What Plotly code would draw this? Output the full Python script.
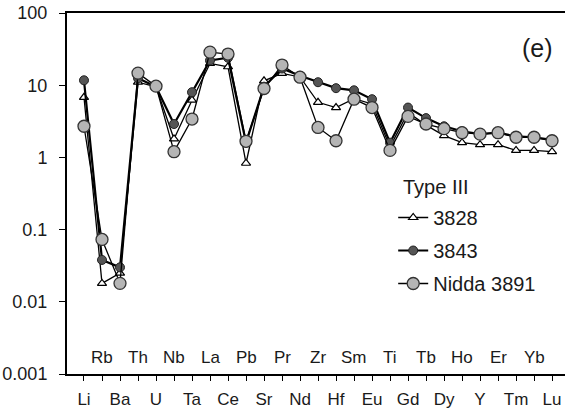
import plotly.graph_objects as go

elements = ["Li", "Rb", "Ba", "Th", "U", "Nb", "Ta", "La", "Ce", "Pb", "Sr", "Pr", "Nd",
            "Zr", "Hf", "Sm", "Eu", "Ti", "Gd", "Tb", "Dy", "Ho", "Y", "Er", "Tm", "Yb", "Lu"]

s3828 = [6.8, 0.018, 0.025, 11.0, 9.5, 1.8, 6.2, 20.0, 18.0, 0.83, 11.5, 14.6, 13.0,
         5.8, 4.9, 6.5, 5.5, 1.4, 4.2, 2.8, 2.0, 1.6, 1.5, 1.5, 1.25, 1.25, 1.2]
s3843 = [11.7, 0.038, 0.030, 12.5, 9.5, 2.9, 8.0, 22.0, 24.0, 1.6, 9.5, 17.0, 13.5,
         11.0, 9.1, 8.5, 6.4, 1.6, 4.9, 3.5, 2.7, 2.3, 2.1, 2.2, 1.95, 1.9, 1.75]
nidda = [2.7, 0.073, 0.018, 14.7, 9.7, 1.2, 3.4, 28.7, 27.0, 1.67, 9.0, 19.0, 12.9,
         2.6, 1.7, 6.4, 4.9, 1.25, 3.7, 2.9, 2.5, 2.2, 2.1, 2.2, 1.9, 1.9, 1.7]

ytick_vals = [0.001, 0.01, 0.1, 1, 10, 100]
ytick_text = ["0.001", "0.01", "0.1", "1", "10", "100"]

FONT = "Liberation Sans, Arial, sans-serif"
TXT = "#1a1a1a"
idx = list(range(len(elements)))

fig = go.Figure()
fig.add_trace(go.Scatter(
    x=idx, y=s3828, name="3828", mode="lines+markers", legendgroup="a",
    line=dict(color="black", width=1.3),
    marker=dict(symbol="triangle-up", size=8, color="white", line=dict(color="black", width=1.2))))
fig.add_trace(go.Scatter(
    x=idx, y=s3843, name="3843", mode="lines+markers", legendgroup="b",
    line=dict(color="black", width=2.2),
    marker=dict(symbol="circle", size=9, color="#555555", line=dict(color="#222222", width=1))))
fig.add_trace(go.Scatter(
    x=idx, y=nidda, name="Nidda 3891", mode="lines+markers", legendgroup="c",
    line=dict(color="black", width=1.3),
    marker=dict(symbol="circle", size=12, color="#b5b5b5", line=dict(color="#333333", width=1.3))))

# labels for odd-index elements sit above the axis, inside the plot
annotations = []
for i, el in enumerate(elements):
    if i % 2 == 1:
        annotations.append(dict(x=i, y=0.047, xref="x", yref="paper", text=el,
                                showarrow=False, xanchor="center", yanchor="middle",
                                font=dict(size=17, color=TXT, family=FONT)))
annotations.append(dict(x=(555 - 67) / 498, y=(374 - 48) / 361, xref="paper", yref="paper",
                        text="(e)", showarrow=False, xanchor="right", yanchor="middle",
                        font=dict(size=25, color=TXT, family=FONT)))
annotations.append(dict(x=(401 - 67) / 498, y=(374 - 187) / 361, xref="paper", yref="paper",
                        text="Type III", showarrow=False, xanchor="left", yanchor="middle",
                        font=dict(size=20, color=TXT, family=FONT)))

fig.update_layout(
    width=565, height=413,
    margin=dict(l=67, r=0, t=13, b=39, autoexpand=False),
    paper_bgcolor="white", plot_bgcolor="white",
    font=dict(family=FONT, color=TXT),
    showlegend=True,
    legend=dict(x=0.655, y=(374 - 198) / 361, xanchor="left", yanchor="top",
                bgcolor="rgba(0,0,0,0)", font=dict(size=20, family=FONT, color=TXT),
                tracegroupgap=4),
    annotations=annotations,
    xaxis=dict(
        range=[-0.944, 26.72], tickmode="array", tickvals=idx,
        ticktext=[el if i % 2 == 0 else "" for i, el in enumerate(elements)],
        ticks="outside", ticklen=5, tickwidth=1.2, tickcolor="black",
        showline=True, linecolor="black", linewidth=1.5, mirror=True,
        showgrid=False, zeroline=False, ticklabelstandoff=4, automargin=False,
        tickfont=dict(size=17, family=FONT, color=TXT)),
    yaxis=dict(
        type="log", range=[-3, 2], tickmode="array", tickvals=ytick_vals, ticktext=ytick_text,
        ticks="outside", ticklen=6, tickwidth=1.2, tickcolor="black",
        showline=True, linecolor="black", linewidth=2,
        showgrid=False, zeroline=False, ticklabelstandoff=8, automargin=False,
        tickfont=dict(size=18, family=FONT, color=TXT)),
)

fig.write_html("out.html", config={"displayModeBar": False},
               post_script="document.body.style.margin='0';document.body.style.overflow='hidden';")
